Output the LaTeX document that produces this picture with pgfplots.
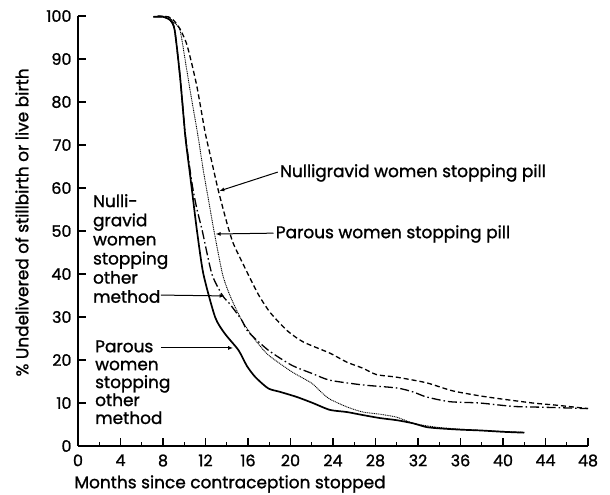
\documentclass[border=0pt]{standalone}
\usepackage{fontspec}
\setmainfont{Poppins}[UprightFeatures={FakeBold=1.2}]
\usepackage{pgfplots}
\pgfplotsset{compat=1.18}
\usetikzlibrary{arrows.meta}
\newcommand{\lblfont}{\fontsize{17}{18.6}\selectfont}
\lineskiplimit=-30pt
\begin{document}
\lineskiplimit=-30pt
\begin{tikzpicture}
\path[use as bounding box] (-78bp,-49bp) rectangle (532bp,446bp);
\begin{axis}[
  at={(0,0)}, anchor=south west,
  scale only axis, width=510bp, height=430bp,
  xmin=0, xmax=48, ymin=0, ymax=100,
  axis x line=bottom, axis y line=left,
  axis line style={-, line width=1.3bp},
  xtick={0,4,...,48}, ytick={0,10,...,100},
  minor x tick num=1,
  tick align=inside,
  major tick length=8bp, minor tick length=4bp,
  tick style={line width=1.1bp, black},
  /pgf/number format/assume math mode=true,
  ticklabel style={font=\fontsize{16}{18}\selectfont},
  xticklabel style={yshift=-5bp},
  yticklabel style={xshift=-3bp},
  xlabel={Months since contraception stopped},
  xlabel style={font=\lblfont, at={(rel axis cs:0,0)}, anchor=west, xshift=-7bp, yshift=-38bp},
  ylabel={\% Undelivered of stillbirth or live birth},
  ylabel style={font=\fontsize{17}{19}\selectfont, at={(rel axis cs:0,0.52)}, anchor=south, xshift=0bp, yshift=46bp},
  clip=false,
]
% Parous women stopping other method (solid)
\addplot[black, line width=1.7bp, smooth, tension=0.4] coordinates {
(7.1,99.8) (8.0,99.8) (8.7,99) (9.1,96.7) (9.6,86) (10.1,72) (10.5,64) (10.8,58) (11.2,50) (11.8,40) (12.9,30) (13.8,26.2) (15.1,22.3) (15.9,18.6) (16.7,16) (17.9,13.4) (19,12.6) (20.6,11.4) (22.1,10) (23.7,8.4) (25.3,7.9) (26.8,7.2) (28.4,6.5) (30,6.0) (31.5,5.3) (32.8,4.4) (34,4.1) (36,3.8) (38,3.6) (40,3.3) (42,3.1)
};
% Nulligravid women stopping other method (dash-dot)
\addplot[black, line width=1.3bp, dash pattern=on 9bp off 3bp on 1.5bp off 3bp, smooth, tension=0.4] coordinates {
(7.1,99.8) (8.0,99.8) (8.7,99) (9.1,96.7) (9.6,86) (10.1,72.5) (10.5,65) (10.8,60) (11.2,55) (11.7,50) (12.6,40) (13.6,35) (14.3,33) (15.4,29.3) (16,26.6) (17.9,22.3) (20.1,18.8) (22.1,16.8) (23.7,15.3) (26.8,14.2) (30,13.5) (31.5,12.6) (32.8,11.4) (35,10.3) (37.8,10) (41,9.2) (44,9) (48,8.7)
};
% Parous women stopping pill (dotted)
\addplot[black, line width=0.9bp, dash pattern=on 1bp off 0.8bp, smooth, tension=0.4] coordinates {
(7.5,100) (8.5,99.8) (9.0,98.5) (9.6,96.7) (10.2,88) (10.6,82) (11.3,72) (11.8,64) (12.3,57) (12.8,50) (13.6,40) (14.3,35) (15.4,29.3) (16.7,24.6) (17.9,21.2) (20.1,17.3) (22,14.6) (22.9,12.5) (23.7,10.9) (25.3,9.1) (26.8,7.9) (28.4,7.4) (30,6.7) (31.5,5.3) (32.8,4.7) (34,4.3) (36,3.9) (38,3.6) (40,3.4) (42,3.2)
};
% Nulligravid women stopping pill (dashed)
\addplot[black, line width=1.3bp, dash pattern=on 5bp off 3bp, smooth, tension=0.4] coordinates {
(7.5,100) (8.5,99.8) (9.0,99) (9.6,97) (10.2,93.7) (10.7,89) (11.2,83.5) (11.6,78) (12.0,72.5) (12.6,66) (13.2,59.5) (14.0,52) (14.6,47.2) (15.5,42.5) (16.5,37.5) (17.1,34.7) (18.1,31) (19.7,26.8) (21.2,24.2) (23.7,21.6) (25.3,19.5) (26.8,18.1) (28.1,16.6) (30,16) (32.8,14.7) (35.3,12.8) (38.5,11.4) (42.8,10) (45,9.5) (48,8.7)
};
% annotations
\node[anchor=west, inner sep=0, font=\lblfont] at (axis cs:19.0,63.5) {Nulligravid women stopping pill};
\draw[-{Latex[length=5bp,width=4bp]}, line width=1bp] (axis cs:18.8,63.7) -- (axis cs:13.3,59.3);
\node[anchor=west, inner sep=0, font=\lblfont] at (axis cs:18.6,49.3) {Parous women stopping pill};
\draw[-{Latex[length=5bp,width=4bp]}, line width=1bp] (axis cs:18.4,49.5) -- (axis cs:12.95,49.3);
\node[anchor=north west, inner sep=0, align=left, font=\fontsize{17}{19.2}\selectfont] at (axis cs:1.4,58.6) {Nulli-\\gravid\\women\\stopping\\other\\method};
\draw[-{Latex[length=5bp,width=4bp]}, line width=1bp] (axis cs:7.8,35.1) -- (axis cs:13.8,34.9);
\node[anchor=north west, inner sep=0, align=left, font=\fontsize{17}{18}\selectfont] at (axis cs:1.6,24.6) {Parous\\women\\stopping\\other\\method};
\draw[-{Latex[length=5bp,width=4bp]}, line width=1bp] (axis cs:7.8,22.8) -- (axis cs:14.6,22.8);
\end{axis}
\end{tikzpicture}
\end{document}
